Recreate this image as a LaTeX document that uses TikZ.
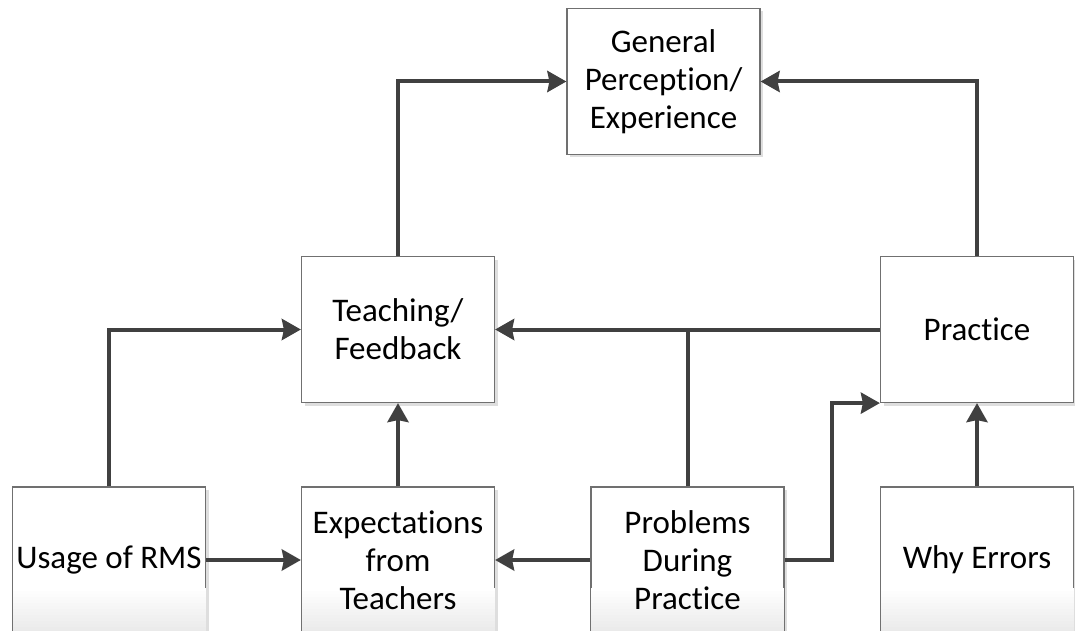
\documentclass[tikz,border=0pt]{standalone}
\usepackage{fontspec}
\setmainfont{Carlito}[Ligatures={NoCommon}]
\usetikzlibrary{arrows.meta,shadows}
\definecolor{lineclr}{HTML}{404040}
\definecolor{edgeclr}{HTML}{707070}
\tikzset{
  box/.style={rectangle, draw=edgeclr, line width=1.2pt, fill=white,
    minimum width=193pt, minimum height=146pt, inner sep=0pt,
    align=center, font=\fontsize{33}{38}\selectfont,
    drop shadow={shadow xshift=3pt, shadow yshift=-3pt, opacity=1, fill=black!13}},
  label/.style={align=center, font=\fontsize{33}{38}\selectfont},
  conn/.style={draw=lineclr, line width=4pt,
    -{Stealth[length=19pt, width=21pt, inset=2pt]}},
  link/.style={draw=lineclr, line width=4pt}
}
\begin{document}
\begin{tikzpicture}[x=1pt, y=-1pt]
\useasboundingbox (0,0) rectangle (1075,631);
\clip (0,0) rectangle (1075,631);

% boxes
\node[box] (gen)   at (663.5,81.5) {General\\Perception/\\Experience};
\node[box] (teach) at (398,329.5)  {Teaching/\\Feedback};
\node[box] (prac)  at (977,329.5)  {Practice};
\node[box] (usage) at (109,560)  {};
\node[box] (expt)  at (398,560)  {};
\node[box] (prob)  at (687.5,560) {};
\node[box] (why)   at (977,560)  {};

% soft fade along the lower edge of the bottom row, built from thin strips
\foreach \b in {usage,expt,prob,why}{
  \foreach \i in {0,...,14}{
    \pgfmathsetmacro{\tone}{0.6*\i}
    \fill[black!\tone]
      ([xshift=0.6pt]\b.west |- 0,{588+3*\i}) rectangle
      ([xshift=-0.6pt]\b.east |- 0,{591.2+3*\i});
  }
}

% labels of the bottom row
\node[label] at (usage) {Usage of RMS};
\node[label] at (expt)  {Expectations\\from\\Teachers};
\node[label] at (prob)  {Problems\\During\\Practice};
\node[label] at (why)   {Why Errors};

\coordinate (bend) at (832,0);

% connectors
\draw[conn] (teach.north) |- (gen.west);
\draw[conn] (prac.north) |- (gen.east);
\draw[conn] (prac.west) -- (teach.east);
\draw[link] (prob.north) -- (prob.north |- teach.east);
\draw[conn] (usage.north) |- (teach.west);
\draw[conn] (expt.north) -- (teach.south);
\draw[conn] (usage.east) -- (expt.west);
\draw[conn] (prob.west) -- (expt.east);
\draw[conn] (prob.east) -| (bend |- prac.south west) -- (prac.south west);
\draw[conn] (why.north) -- (prac.south);
\end{tikzpicture}
\end{document}
